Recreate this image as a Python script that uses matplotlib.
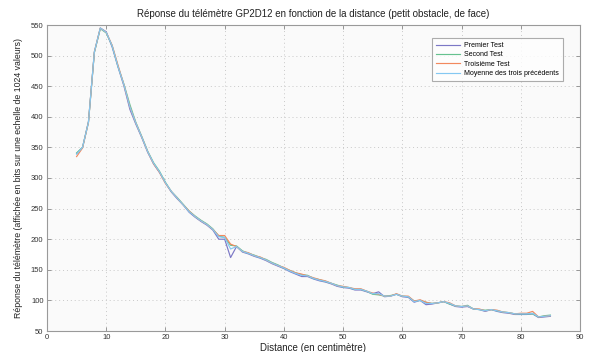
import matplotlib
matplotlib.use("Agg")
import matplotlib.pyplot as plt

distance = list(range(5, 86))

premier = [340, 350, 392, 506, 545, 539, 514, 481, 450, 412, 388, 366, 342, 323, 309,
           292, 277, 266, 256, 244, 236, 229, 223, 215, 200, 200, 170, 188, 179, 176,
           172, 169, 165, 160, 156, 152, 147, 143, 139, 139, 135, 132, 130, 127, 123,
           121, 120, 117, 117, 114, 111, 114, 106, 107, 110, 106, 105, 97, 100, 93,
           94, 96, 98, 94, 90, 89, 90, 86, 85, 82, 85, 82, 80, 79, 77, 77, 77, 78,
           72, 73, 74]
second = [341, 350, 391, 505, 544, 537, 516, 482, 453, 420, 391, 368, 344, 325, 311,
          293, 278, 268, 257, 246, 238, 231, 225, 217, 205, 203, 190, 189, 181, 177,
          174, 170, 167, 162, 158, 153, 149, 145, 142, 141, 136, 134, 131, 128, 125,
          122, 121, 118, 118, 115, 110, 109, 107, 108, 110, 107, 106, 99, 100, 97,
          95, 96, 98, 94, 91, 90, 92, 86, 85, 84, 85, 83, 81, 80, 78, 78, 78, 78,
          73, 75, 76]
troisieme = [335, 349, 391, 506, 545, 538, 517, 484, 452, 416, 390, 367, 343, 323, 309,
             291, 278, 267, 256, 246, 237, 230, 224, 216, 206, 206, 192, 188, 180, 178,
             173, 171, 166, 161, 157, 154, 149, 145, 143, 140, 137, 134, 132, 128, 124,
             123, 121, 119, 119, 115, 112, 110, 107, 107, 111, 107, 107, 99, 101, 97,
             95, 96, 98, 96, 91, 90, 91, 86, 86, 83, 85, 84, 81, 80, 78, 79, 79, 82,
             73, 74, 75]
moyenne = [339, 350, 391, 506, 545, 538, 516, 482, 452, 416, 390, 367, 343, 324, 310,
           292, 278, 267, 256, 245, 237, 230, 224, 216, 204, 203, 184, 188, 180, 177,
           173, 170, 166, 161, 157, 153, 148, 144, 141, 140, 136, 133, 131, 128, 124,
           122, 121, 118, 118, 115, 111, 111, 107, 107, 110, 107, 106, 98, 100, 95,
           95, 96, 98, 95, 91, 90, 91, 86, 85, 83, 85, 83, 81, 80, 78, 78, 78, 79,
           73, 74, 75]

series_names = ["Premier Test", "Second Test", "Troisième Test", "Moyenne des trois précédents"]
series_colors = ["#7c78c6", "#66c28f", "#f2895e", "#84c8f2"]

xticks = list(range(0, 100, 10))
yticks = list(range(50, 600, 50))

plt.rcParams['font.family'] = ['Liberation Sans', 'DejaVu Sans']

fig = plt.figure(figsize=(5.96, 3.52), dpi=100, facecolor="white")
ax = fig.add_axes([47/596, 1-331/352, (580-47)/596, (331-25)/352])
ax.set_facecolor("#fafafa")

for vals, name, col in zip([premier, second, troisieme, moyenne], series_names, series_colors):
    ax.plot(distance, vals, color=col, lw=0.85, label=name)

ax.set_xlim(0, 90)
ax.set_ylim(50, 550)
ax.set_xticks(xticks)
ax.set_yticks(yticks)
ax.grid(True, linestyle=(0, (1, 3)), color="#c8c8c8", lw=0.7)
ax.tick_params(direction="in", length=3, width=0.6, colors="#888888", labelcolor="#333333",
               labelsize=5.5, top=True, right=True, pad=2.5)
for s in ax.spines.values():
    s.set_color("#9a9a9a")
    s.set_linewidth(0.8)

ax.set_title("Réponse du télémètre GP2D12 en fonction de la distance (petit obstacle, de face)",
             fontsize=7, color="#222222", pad=6)
ax.set_xlabel("Distance (en centimètre)", fontsize=7, color="#222222", labelpad=1)
ax.set_ylabel("Réponse du télémètre (affichée en bits sur une echelle de 1024 valeurs)",
              fontsize=6.3, color="#222222", labelpad=6)

leg = ax.legend(loc="upper right", bbox_to_anchor=(1 - 14/533, 1 - 10/306), fontsize=5,
                frameon=True, fancybox=False, handlelength=3.5, borderpad=0.5,
                labelspacing=0.35, handletextpad=0.6)
leg.get_frame().set_edgecolor("#999999")
leg.get_frame().set_linewidth(0.8)
leg.get_frame().set_facecolor("white")

fig.savefig("out.png", dpi=100)
